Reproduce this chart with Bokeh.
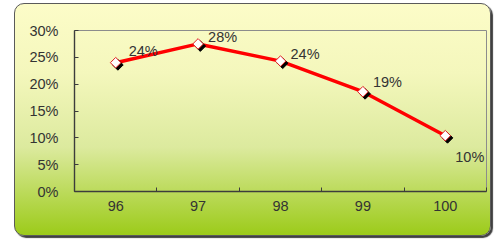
from bokeh.plotting import figure
from bokeh.models import ColumnDataSource, FixedTicker, Range1d
from bokeh.embed import file_html
from bokeh.resources import INLINE
from bokeh.core.properties import value
import math

# ---- data ----
years = ["96", "97", "98", "99", "100"]
rates = [24.0, 27.5, 24.3, 18.6, 10.4]
rate_labels = ["24%", "28%", "24%", "19%", "10%"]
y_ticks = [0, 5, 10, 15, 20, 25, 30]

# ---- styles ----
label_dx = [13, 10, 10, 10, 10]
label_dy = [-12, -7, -7, -10, 21]
FONT = "Liberation Sans"
TXT = "#333333"

xs = list(range(1, len(years) + 1))
x0, x1 = 0.5, len(years) + 0.5
y0, y1 = 0, 30
W, H = 477, 233
ML, MR, MT, MB = 59, 6, 26, 46
fw, fh = W - ML - MR, H - MT - MB
sx = (x1 - x0) / fw
sy = (y1 - y0) / fh

src = ColumnDataSource(dict(
    x=xs, y=rates, lab=rate_labels,
    xs=[v + 2.2 * sx for v in xs], ys=[v - 2.2 * sy for v in rates],
    dx=label_dx, dy=label_dy,
))

p = figure(width=W, height=H, output_backend="svg", toolbar_location=None,
           x_range=Range1d(x0, x1), y_range=Range1d(y0, y1),
           min_border_left=ML, min_border_right=MR, min_border_top=MT,
           min_border_bottom=MB)
p.margin = (3, 0, 0, 14)
p.styles = {
    "background": "linear-gradient(to bottom, #fcfcc8 0%, #f4f7bc 30%, #dcea9e 62%, #9ccb1a 100%)",
    "border-radius": "10px",
    "border": "1px solid #5a5a5a",
    "box-shadow": "2px 2px 1px rgba(0,0,0,0.75)",
}
p.border_fill_alpha = 0
p.background_fill_alpha = 0
p.outline_line_color = "#8c8c8c"
p.outline_line_width = 1
p.xgrid.visible = False
p.ygrid.visible = False

# y axis
ya = p.yaxis[0]
ya.ticker = FixedTicker(ticks=y_ticks, minor_ticks=[])
ya.major_label_overrides = {t: f"{t}%" for t in y_ticks}
ya.major_tick_in = 4
ya.major_tick_out = 0
ya.minor_tick_in = 0
ya.minor_tick_out = 0
ya.major_label_standoff = 16

# x axis: labels at category centres, ticks at boundaries
xa = p.xaxis[0]
xa.ticker = FixedTicker(ticks=xs, minor_ticks=[v + 0.5 for v in [0] + xs])
xa.major_label_overrides = {v: c for v, c in zip(xs, years)}
xa.major_tick_in = 0
xa.major_tick_out = 0
xa.minor_tick_in = 4
xa.minor_tick_out = 0
xa.major_label_standoff = 9

for ax in (xa, ya):
    ax.axis_line_color = "#3c3c3c"
    ax.axis_line_width = 1.4
    ax.major_tick_line_color = "#3c3c3c"
    ax.minor_tick_line_color = "#3c3c3c"
    ax.major_label_text_font = FONT
    ax.major_label_text_font_size = "14.5px"
    ax.major_label_text_color = TXT

p.line("x", "y", source=src, line_color="#ff0000", line_width=3.5)
p.scatter("xs", "ys", source=src, marker="square", size=7.5, angle=math.pi / 4,
          fill_color="black", line_color="black", line_width=1)
p.scatter("x", "y", source=src, marker="square", size=7.5, angle=math.pi / 4,
          fill_color="white", line_color="#e02020", line_width=1)
p.text("x", "y", text="lab", source=src, x_offset="dx", y_offset="dy",
       text_font=value(FONT), text_font_size="14.5px", text_color=TXT,
       text_align="left", text_baseline="middle")

open("out.html", "w").write(file_html(p, INLINE))
